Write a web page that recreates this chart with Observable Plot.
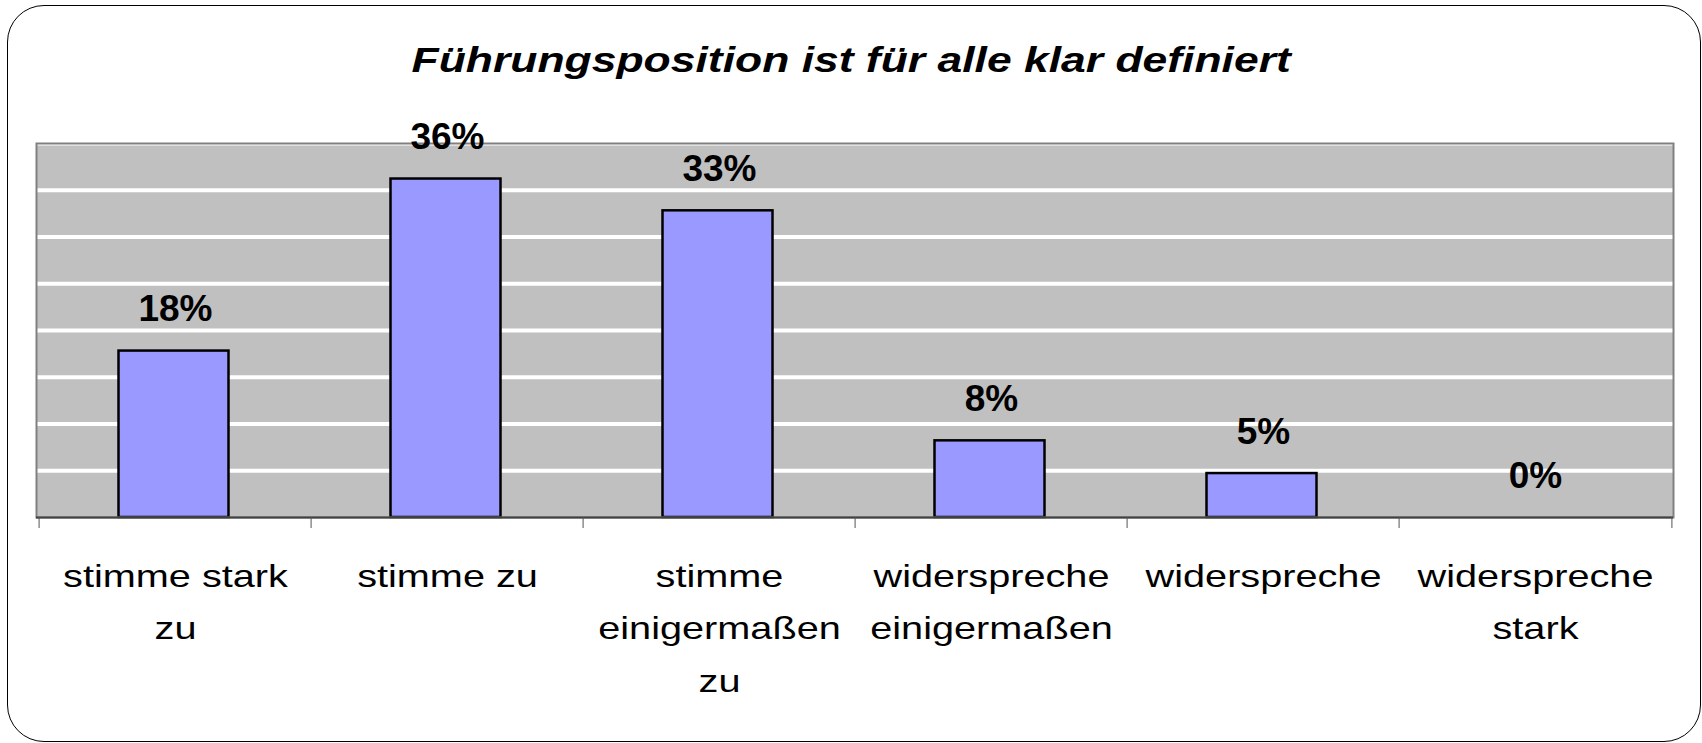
<!DOCTYPE html>
<html>
<head>
<meta charset="utf-8">
<script src="https://cdn.jsdelivr.net/npm/d3@7"></script>
<script src="https://cdn.jsdelivr.net/npm/@observablehq/plot@0.6"></script>
<style>
  body { margin: 0; background: #fff; }
  #wrap { position: relative; width: 1702px; height: 743px; overflow: hidden; font-family: "Liberation Sans", Arial, sans-serif; }
  #border { position: absolute; left: 7px; top: 5px; width: 1694px; height: 737px; box-sizing: border-box; border: 1.5px solid #000; border-radius: 37px; }
  #title { position: absolute; left: 0; top: 42px; width: 1702px; text-align: center; font-weight: bold; font-style: italic; font-size: 35px; line-height: 35px; color: #000; }
  #title span { display: inline-block; transform: scaleX(1.27); }
  #chart { position: absolute; left: 0; top: 100px; }
</style>
</head>
<body>
<div id="wrap">
  <div id="border"></div>
  <div id="title"><span>Führungsposition ist für alle klar definiert</span></div>
  <div id="chart"></div>
</div>
<script>
const categories = ["stimme stark zu", "stimme zu", "stimme einigermaßen zu", "widerspreche einigermaßen", "widerspreche", "widerspreche stark"];
const tickLabels = ["stimme stark\nzu", "stimme zu", "stimme\neinigermaßen\nzu", "widerspreche\neinigermaßen", "widerspreche", "widerspreche\nstark"];
const shares = [17.8, 36.2, 32.8, 8.2, 4.7, 0];
const valueLabels = ["18%", "36%", "33%", "8%", "5%", "0%"];
const gridValues = [5, 10, 15, 20, 25, 30, 35, 40];

const data = categories.map((c, i) => ({category: c, share: shares[i], label: valueLabels[i]}));

const W = 1702, H = 643, ML = 36, MR = 29, MT = 43, MB = 226;
const step = (W - ML - MR) / categories.length;

const chart = Plot.plot({
  width: W,
  height: H,
  marginLeft: ML,
  marginRight: MR,
  marginTop: MT,
  marginBottom: MB,
  style: {fontFamily: '"Liberation Sans", Arial, sans-serif', background: "transparent", overflow: "visible", color: "#000"},
  x: {domain: categories, padding: 0, axis: null},
  y: {domain: [0, 40], axis: null},
  marks: [
    Plot.frame({fill: "#C0C0C0", stroke: null}),
    Plot.gridY(gridValues, {stroke: "#fff", strokeOpacity: 1, strokeWidth: 4}),
    Plot.barY(data.filter(d => d.share > 0), {x: "category", y: "share", fill: "#9999FF", stroke: "#000", strokeWidth: 2.5, insetLeft: 81, insetRight: 81, dx: -1.5}),
    Plot.frame({stroke: "#808080", strokeWidth: 2}),
    Plot.ruleY([0], {stroke: "#404040", strokeWidth: 2}),
    Plot.axisX({tickSize: 11, tickFormat: () => "", dx: -step / 2, stroke: "#555", label: null}),
    Plot.axisX([categories[categories.length - 1]], {tickSize: 11, tickFormat: () => "", dx: step / 2, stroke: "#555", label: null}),
    Plot.axisX({tickSize: 0, tickPadding: 32, tickFormat: d => tickLabels[categories.indexOf(d)], fontSize: 32, lineHeight: 1.64, fill: "#000", label: null}),
    Plot.text(data, {x: "category", y: "share", text: "label", dy: -30, lineAnchor: "bottom", fontSize: 37, fontWeight: "bold", fill: "#000"})
  ]
});

chart.querySelectorAll('g[aria-label="x-axis tick label"] text').forEach(t => {
  const tr = t.getAttribute("transform");
  if (tr) t.setAttribute("transform", tr + " scale(1.24,1)");
});

document.getElementById("chart").appendChild(chart);
</script>
</body>
</html>
